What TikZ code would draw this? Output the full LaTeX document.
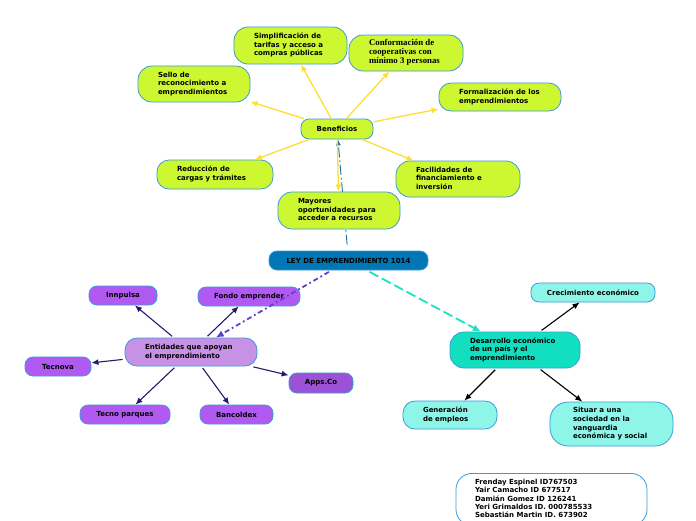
\documentclass[tikz,border=0pt]{standalone}
\usepackage{fontspec}
\usetikzlibrary{arrows.meta,backgrounds}
\newfontfamily\verdfont{DejaVu Sans}
\newfontfamily\serffont{Liberation Serif}
\definecolor{rimblue}{RGB}{58,155,220}
\definecolor{benlime}{RGB}{205,247,48}
\definecolor{leyblue}{RGB}{0,118,180}
\definecolor{entpurple}{RGB}{177,90,242}
\definecolor{entlilac}{RGB}{199,146,230}
\definecolor{appspurple}{RGB}{156,82,214}
\definecolor{desteal}{RGB}{18,223,192}
\definecolor{descyan}{RGB}{142,246,232}
\definecolor{linkyellow}{RGB}{255,222,50}
\definecolor{linknavy}{RGB}{40,25,110}
\definecolor{linkviolet}{RGB}{100,62,205}
\definecolor{linkteal}{RGB}{30,225,190}
\definecolor{linkblue}{RGB}{20,110,180}
\newcommand\lefttext[2]{\makebox[#1][l]{\begin{tabular}{@{}l@{}}#2\end{tabular}}}
\tikzset{
	pill/.style={draw=rimblue, line width=0.8pt, rounded corners=#1, inner sep=0pt,
		font=\verdfont\bfseries\fontsize{7}{8.7}\selectfont},
	pill/.default=8pt,
	boxsize/.style 2 args={minimum width=#1, minimum height=#2},
	lime/.style={pill=#1, fill=benlime},
	lime/.default=8pt,
	violet/.style={pill=#1, fill=entpurple},
	violet/.default=8pt,
	cyan/.style={pill=#1, fill=descyan},
	cyan/.default=8pt,
	yarrow/.style={draw=linkyellow, line width=1.3pt, -{Latex[length=7pt,width=6pt]}},
	narrow/.style={draw=linknavy, line width=1.1pt, shorten <=2pt, -{Latex[length=7pt,width=6pt]}},
	karrow/.style={draw=black, line width=1.1pt, shorten <=2pt, -{Latex[length=7pt,width=6pt]}}
}
\begin{document}
\begin{tikzpicture}[x=1pt, y=-1pt]
	\useasboundingbox (0,0) rectangle (696,520);
	\node[lime=14pt, boxsize={113pt}{37pt}] (simp) at (290.5,45.5)
		{\lefttext{73pt}{Simplificación de\\tarifas y acceso a\\compras públicas}};
	\node[lime=14pt, boxsize={114pt}{36pt}, font=\serffont\bfseries\fontsize{8.8}{9}\selectfont] (conf) at (406,53)
		{\lefttext{74pt}{Conformación de\\cooperativas con\\mínimo 3 personas}};
	\node[lime=14pt, boxsize={112pt}{36pt}] (sello) at (194,84)
		{\lefttext{72pt}{Sello de\\reconocimiento a\\emprendimientos}};
	\node[lime=12pt, boxsize={122pt}{28pt}] (form) at (500,97)
		{\lefttext{82pt}{Formalización de los\\emprendimientos}};
	\node[lime, boxsize={72pt}{20pt}] (ben) at (337,129) {Beneficios};
	\node[lime=12pt, boxsize={116pt}{29pt}] (red) at (215,174.5)
		{\lefttext{76pt}{Reducción de\\cargas y trámites}};
	\node[lime=14pt, boxsize={124pt}{36pt}] (fac) at (458,179)
		{\lefttext{84pt}{Facilidades de\\financiamiento e\\inversión}};
	\node[lime=14pt, boxsize={122pt}{37pt}] (may) at (339,210.5)
		{\lefttext{82pt}{Mayores\\oportunidades para\\acceder a recursos}};
	\node[pill, fill=leyblue, boxsize={159pt}{19pt}] (ley) at (348.5,260.5) {LEY DE EMPRENDIMIENTO 1014};

	\node[violet, boxsize={68pt}{19pt}] (inn) at (123,295.5) {Innpulsa};
	\node[violet, boxsize={102pt}{19pt}] (fon) at (249,296.5) {Fondo emprender};
	\node[pill=12pt, fill=entlilac, boxsize={132pt}{28pt}] (ent) at (191,352)
		{\lefttext{92pt}{Entidades que apoyan\\el emprendimiento}};
	\node[violet, boxsize={66pt}{19pt}] (tec) at (58,366.5) {Tecnova};
	\node[pill, fill=appspurple, boxsize={64pt}{20pt}] (apps) at (321,383) {Apps.Co};
	\node[violet, boxsize={90pt}{19pt}] (tpq) at (125,414.5) {Tecno parques};
	\node[violet, boxsize={73pt}{19pt}] (banc) at (236.5,414.5) {Bancoldex};

	\node[cyan, boxsize={124pt}{19pt}] (crec) at (593,292.5) {Crecimiento económico};
	\node[pill=14pt, fill=desteal, boxsize={130pt}{36pt}] (des) at (515,350)
		{\lefttext{90pt}{Desarrollo económico\\de un país y el\\emprendimiento}};
	\node[cyan=12pt, boxsize={94pt}{28pt}] (gen) at (450,415)
		{\lefttext{54pt}{Generación\\de empleos}};
	\node[cyan=18pt, boxsize={123pt}{44pt}] (sit) at (611.5,424)
		{\lefttext{77pt}{Situar a una\\sociedad en la\\vanguardia\\económica y social}};

	\node[pill=16pt, fill=white, boxsize={191pt}{52pt}, anchor=north,
		font=\verdfont\bfseries\fontsize{7}{8.2}\selectfont] (aut) at (551.5,473)
		{\lefttext{153pt}{Frenday Espinel ID767503\\Yair Camacho ID 677517\\Damián Gomez ID 126241\\Yeri Grimaldos ID. 000785533\\Sebastián Martin ID. 673902}};

	\begin{scope}[on background layer]
		\fill[white] (0,0) rectangle (696,520);
		\draw[linkblue, line width=0.9pt, dash pattern=on 10pt off 3pt on 1.5pt off 3pt, shorten <=6pt,
			-{Latex[length=6pt,width=5pt]}] (ley) -- (ben);
	\end{scope}

	\draw[yarrow] (ben) -- (simp);
	\draw[yarrow] (ben) -- (conf);
	\draw[yarrow] (ben) -- (sello);
	\draw[yarrow] (ben) -- (form);
	\draw[yarrow] (ben) -- (red);
	\draw[yarrow] (ben) -- (fac);
	\draw[yarrow] (ben) -- (may);

	\draw[linkviolet, line width=1.8pt, dash pattern=on 5pt off 3pt on 1.8pt off 3pt, shorten <=3pt,
		-{Latex[length=8pt,width=7pt]}] (ley) -- (ent);
	\draw[linkteal, line width=1.8pt, dash pattern=on 10pt off 4pt, shorten <=3pt,
		-{Latex[length=8pt,width=7pt]}] (ley) -- (des);

	\draw[narrow] (ent) -- (inn);
	\draw[narrow] (ent) -- (fon);
	\draw[narrow] (ent) -- (tec);
	\draw[narrow] (ent) -- (apps);
	\draw[narrow] (ent) -- (tpq);
	\draw[narrow] (ent) -- (banc);

	\draw[karrow] (des) -- (crec);
	\draw[karrow] (des) -- (gen);
	\draw[karrow] (des) -- (sit);
\end{tikzpicture}
\end{document}
